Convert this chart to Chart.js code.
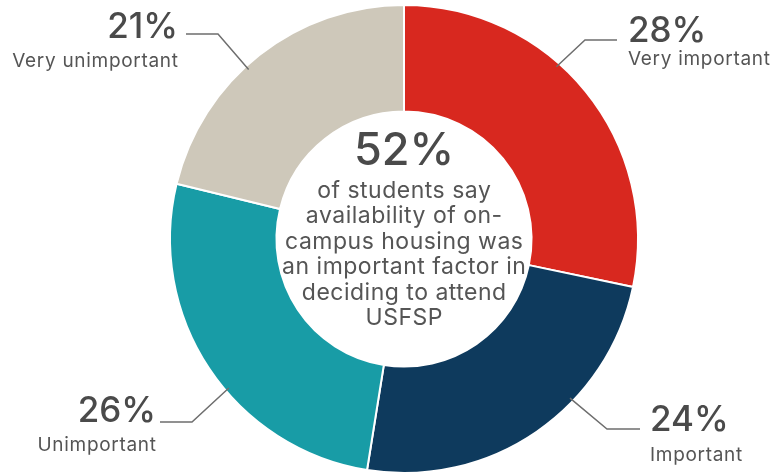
<!DOCTYPE html>
<html>
<head>
<meta charset="utf-8">
<script src="https://cdn.jsdelivr.net/npm/chart.js@4"></script>
<style>
  html, body { margin: 0; padding: 0; background: #ffffff; }
  #wrap { width: 773px; height: 476px; position: relative; }
</style>
</head>
<body>
<div id="wrap"><canvas id="c" width="773" height="476"></canvas></div>
<script>
// Survey answers: how important was on-campus housing in deciding to attend
const categories = ['Very important', 'Important', 'Unimportant', 'Very unimportant'];
const percents = [28, 24, 26, 21];
const sliceColors = ['#d8281f', '#0e3a5d', '#189ca6', '#cec8ba'];
const headline = '52%';
const headlineText = ['of students say', 'availability of on-', 'campus housing was', 'an important factor in', 'deciding to attend', 'USFSP'];

// Callout layout: angle on the ring (deg clockwise from top), elbow and text placement
const callouts = [
  { angle: 41.5,  elbow: [585, 40],  end: [617, 40],  textX: 628, align: 'left',  pctY: 31,  labelY: 59 },
  { angle: 133.8, elbow: [607, 429], end: [640, 429], textX: 650, align: 'left',  pctY: 420, labelY: 455 },
  { angle: 229.6, elbow: [192, 422], end: [160, 422], textX: 156, align: 'right', pctY: 411, labelY: 445 },
  { angle: 317.5, elbow: [218, 34],  end: [186, 34],  textX: 178, align: 'right', pctY: 27,  labelY: 61 }
];

const FONT = 'Inter, "Open Sans", sans-serif';

// draw text with extra tracking, keeping the requested alignment exact
function spacedText(ctx, text, x, y, spacing, align) {
  ctx.save();
  ctx.letterSpacing = spacing + 'px';
  ctx.textAlign = 'left';
  const w = ctx.measureText(text).width - spacing;
  let sx = x;
  if (align === 'center') sx = x - w / 2;
  else if (align === 'right') sx = x - w;
  ctx.fillText(text, sx, y);
  ctx.restore();
}

const overlay = {
  id: 'overlay',
  afterDraw(chart) {
    const ctx = chart.ctx;
    const arc = chart.getDatasetMeta(0).data[0];
    const cx = arc.x, cy = arc.y, r = arc.outerRadius;

    // centre statement
    ctx.save();
    ctx.textBaseline = 'middle';
    ctx.fillStyle = '#4a4a4a';
    ctx.font = '500 45px ' + FONT;
    spacedText(ctx, headline, cx, cy - 88, 0, 'center');
    ctx.fillStyle = '#555555';
    ctx.font = '23px ' + FONT;
    headlineText.forEach((line, i) => spacedText(ctx, line, cx, cy - 48 + i * 25.5, 0.5, 'center'));
    ctx.restore();

    // callouts
    callouts.forEach((c, i) => {
      const a = c.angle * Math.PI / 180;
      const ax = cx + (r - 4) * Math.sin(a);
      const ay = cy - (r - 4) * Math.cos(a);
      ctx.save();
      ctx.strokeStyle = '#6e6e6e';
      ctx.lineWidth = 1.5;
      ctx.beginPath();
      ctx.moveTo(ax, ay);
      ctx.lineTo(c.elbow[0], c.elbow[1]);
      ctx.lineTo(c.end[0], c.end[1]);
      ctx.stroke();
      ctx.textBaseline = 'middle';
      ctx.fillStyle = '#4a4a4a';
      ctx.font = '500 35px ' + FONT;
      spacedText(ctx, percents[i] + '%', c.textX, c.pctY, 0, c.align);
      ctx.fillStyle = '#555555';
      ctx.font = '19px ' + FONT;
      spacedText(ctx, categories[i], c.textX, c.labelY, 0.7, c.align);
      ctx.restore();
    });
  }
};

new Chart(document.getElementById('c'), {
  type: 'doughnut',
  data: {
    labels: categories,
    datasets: [{
      data: percents,
      backgroundColor: sliceColors,
      borderColor: '#ffffff',
      borderWidth: 2,
      hoverOffset: 0
    }]
  },
  options: {
    responsive: false,
    animation: false,
    radius: 234,
    cutout: 127,
    layout: { padding: { left: 35, right: 0, top: 5, bottom: 3 } },
    plugins: { legend: { display: false }, tooltip: { enabled: false } }
  },
  plugins: [overlay]
});
</script>
</body>
</html>
